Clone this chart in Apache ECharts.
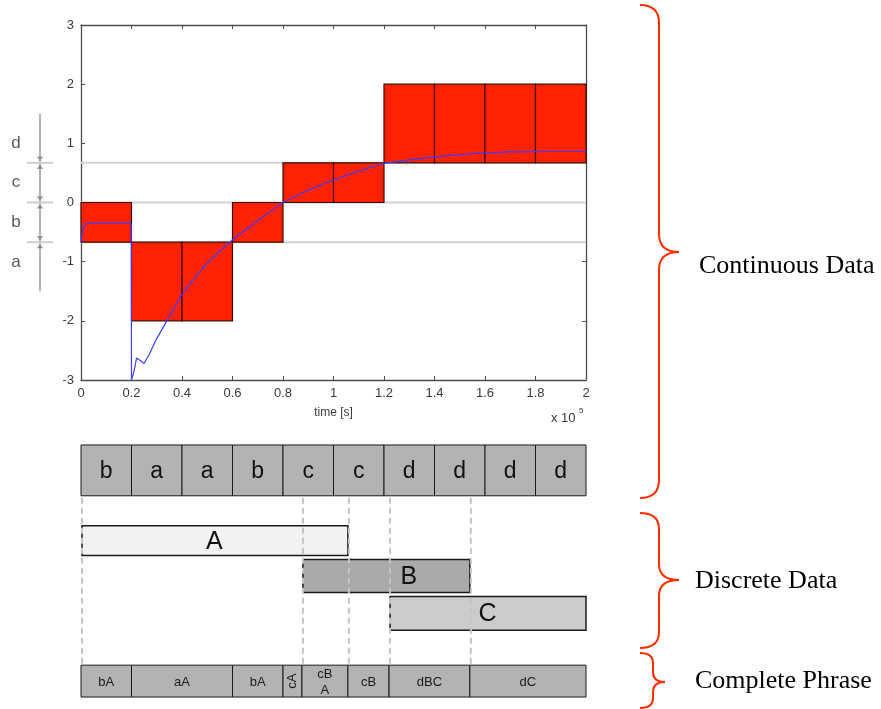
<!DOCTYPE html>
<html>
<head>
<meta charset="utf-8">
<script src="https://cdn.jsdelivr.net/npm/echarts@6/dist/echarts.min.js"></script>
<style>html,body{margin:0;padding:0;background:#fff}#c{width:881px;height:709px}</style>
</head>
<body>
<div id="c"></div>
<script>
// ---------- DATA ----------
const alphabet = ['a', 'b', 'c', 'd'];
const breakpoints = [-0.67, 0, 0.67];
const outerLimits = [-2, 2];
const symbols = ['b', 'a', 'a', 'b', 'c', 'c', 'd', 'd', 'd', 'd'];
const segEdges = [0, 0.2, 0.4, 0.6, 0.8, 1.0, 1.2, 1.4, 1.6, 1.8, 2.0];

const timeX = [0, 0.005, 0.01, 0.02, 0.04, 0.1, 0.15, 0.199, 0.2, 0.21, 0.22, 0.235, 0.25, 0.27, 0.3, 0.34,
  0.4, 0.45, 0.5, 0.55, 0.6, 0.65, 0.7, 0.75, 0.8, 0.9, 1.0, 1.1, 1.2, 1.3, 1.4, 1.5, 1.6, 1.7, 1.8, 1.9, 2.0];
const signalY = [-0.67, -0.5, -0.4, -0.36, -0.35, -0.35, -0.35, -0.35, -3.0, -2.85, -2.63, -2.67, -2.72, -2.57, -2.3, -2.0,
  -1.55, -1.28, -1.02, -0.82, -0.63, -0.47, -0.31, -0.15, 0.0, 0.21, 0.38, 0.53, 0.66, 0.72, 0.77, 0.81, 0.84, 0.855, 0.86, 0.862, 0.862];

const eventNames = ['A', 'B', 'C'];
const eventStart = [0, 0.875, 1.22];
const eventEnd = [1.057, 1.54, 2.0];

const phraseLabels = ['bA', 'aA', 'bA', 'cA', 'cB\nA', 'cB', 'dBC', 'dC'];
const phraseEdges = [0, 0.2, 0.6, 0.8, 0.875, 1.057, 1.22, 1.54, 2.0];

const xTickLabels = ['0', '0.2', '0.4', '0.6', '0.8', '1', '1.2', '1.4', '1.6', '1.8', '2'];
const yTickLabels = ['-3', '-2', '-1', '0', '1', '2', '3'];

const sectionLabels = ['Continuous Data', 'Discrete Data', 'Complete Phrase'];

// ---------- STYLE / LAYOUT ----------
const eventFill = ['#f2f2f2', '#aaaaaa', '#cccccc'];
const SANS = '"Liberation Sans", Arial, sans-serif';
const SERIF = '"Liberation Serif", "Times New Roman", serif';
const ROW = [5, 56];
const EVENT_ROWS = [[86, 116], [120, 153], [157, 191]];
const PHRASE_ROW = [226, 258];
const ANNOT_EXTENT = 1.5;
const RED = '#ff2d00';

function symRange(s) {
  const i = alphabet.indexOf(s);
  const lo = i === 0 ? outerLimits[0] : breakpoints[i - 1];
  const hi = i === alphabet.length - 1 ? outerLimits[1] : breakpoints[i];
  return [lo, hi];
}
const halfGap = (breakpoints[1] - breakpoints[0]) / 2;
function symCenter(s) {
  const i = alphabet.indexOf(s);
  if (i === 0) return breakpoints[0] - halfGap;
  if (i === alphabet.length - 1) return breakpoints[breakpoints.length - 1] + halfGap;
  return (breakpoints[i - 1] + breakpoints[i]) / 2;
}
const dashBounds = Array.from(new Set(eventStart.concat(eventEnd))).filter(v => v < 2).sort((a, b) => a - b);
// label position of an event: its centre, unless a boundary line crosses there
function eventLabelX(i) {
  const c = (eventStart[i] + eventEnd[i]) / 2;
  if (dashBounds.some(d => Math.abs(d - c) < 0.05) && i > 0) {
    return (Math.max(eventStart[i], eventEnd[i - 1]) + eventEnd[i]) / 2;
  }
  return c;
}

function txt(text, x, y, size, color, family, extra) {
  return Object.assign({
    type: 'text', x: x, y: y,
    style: { text: text, x: 0, y: 0, fill: color, font: size + 'px ' + family,
      align: 'center', verticalAlign: 'middle', textAlign: 'center', textVerticalAlign: 'middle' }
  }, extra || {});
}
function leftTxt(text, x, y, size, color, family) {
  return { type: 'text', x: x, y: y,
    style: { text: text, x: 0, y: 0, fill: color, font: size + 'px ' + family,
      align: 'left', verticalAlign: 'middle', textAlign: 'left', textVerticalAlign: 'middle' } };
}
// curly brace made of lines + quadratic curves
function brace(x0, xv, xt, yTop, yMid, yBot, r) {
  const st = { stroke: RED, lineWidth: 2, fill: null };
  return { type: 'group', children: [
    { type: 'bezierCurve', shape: { x1: x0, y1: yTop, cpx1: xv, cpy1: yTop, x2: xv, y2: yTop + r }, style: st },
    { type: 'line', shape: { x1: xv, y1: yTop + r, x2: xv, y2: yMid - r }, style: st },
    { type: 'bezierCurve', shape: { x1: xv, y1: yMid - r, cpx1: xv, cpy1: yMid, x2: xt, y2: yMid }, style: st },
    { type: 'bezierCurve', shape: { x1: xt, y1: yMid, cpx1: xv, cpy1: yMid, x2: xv, y2: yMid + r }, style: st },
    { type: 'line', shape: { x1: xv, y1: yMid + r, x2: xv, y2: yBot - r }, style: st },
    { type: 'bezierCurve', shape: { x1: xv, y1: yBot - r, cpx1: xv, cpy1: yBot, x2: x0, y2: yBot }, style: st }
  ] };
}

const chart = echarts.init(document.getElementById('c'), null, { renderer: 'canvas' });

const axisCol = '#4d4d4d';
const option = {
  animation: false,
  backgroundColor: '#fff',
  grid: [
    { left: 81, top: 25, width: 505, height: 355 },
    { left: 81, top: 440, width: 505, height: 270 }
  ],
  xAxis: [
    { gridIndex: 0, type: 'value', min: 0, max: 2, interval: 0.2, position: 'bottom',
      axisLine: { onZero: false, lineStyle: { color: axisCol, width: 1.3 } },
      axisTick: { inside: true, length: 4, lineStyle: { color: axisCol } },
      axisLabel: { color: '#3a3a3a', fontSize: 13, fontFamily: SANS, margin: 7,
        formatter: (v) => xTickLabels[Math.round(v / 0.2)] },
      splitLine: { show: false },
      name: 'time [s]', nameLocation: 'middle', nameGap: 27,
      nameTextStyle: { color: '#3a3a3a', fontSize: 12, fontFamily: SANS } },
    { gridIndex: 1, type: 'value', min: 0, max: 2, show: false },
    { gridIndex: 0, type: 'value', min: 0, max: 2, interval: 0.2, position: 'top',
      axisLine: { onZero: false, lineStyle: { color: axisCol, width: 1.3 } },
      axisTick: { inside: true, length: 4, lineStyle: { color: axisCol } },
      axisLabel: { show: false }, splitLine: { show: false } }
  ],
  yAxis: [
    { gridIndex: 0, type: 'value', min: -3, max: 3, interval: 1, position: 'left',
      axisLine: { show: true, onZero: false, lineStyle: { color: axisCol, width: 1.3 } },
      axisTick: { show: true, inside: true, length: 4, lineStyle: { color: axisCol } },
      axisLabel: { color: '#3a3a3a', fontSize: 13, fontFamily: SANS, margin: 7,
        formatter: (v) => yTickLabels[Math.round(v + 3)] },
      splitLine: { show: false } },
    { gridIndex: 1, type: 'value', min: 0, max: 270, inverse: true, show: false },
    { gridIndex: 0, type: 'value', min: -3, max: 3, interval: 1, position: 'right',
      axisLine: { show: true, onZero: false, lineStyle: { color: axisCol, width: 1.3 } },
      axisTick: { show: true, inside: true, length: 4, lineStyle: { color: axisCol } },
      axisLabel: { show: false }, splitLine: { show: false } }
  ],
  graphic: [
    brace(640, 659, 679, 5, 252, 498, 18),
    brace(640, 659, 679, 513, 580, 648, 16),
    brace(640, 653, 665, 653, 682, 708, 10),
    leftTxt(sectionLabels[0], 699, 266, 26, '#000', SERIF),
    leftTxt(sectionLabels[1], 695, 581, 26, '#000', SERIF),
    leftTxt(sectionLabels[2], 695, 681, 26, '#000', SERIF),
    leftTxt('x 10', 551, 418, 13, '#3a3a3a', SANS),
    leftTxt('5', 579, 411, 8, '#3a3a3a', SANS)
  ],
  series: [
    // breakpoint grey lines
    { type: 'custom', xAxisIndex: 0, yAxisIndex: 0, z: 1,
      data: breakpoints.map(b => [0, b]),
      renderItem: (params, api) => {
        const p0 = api.coord([0, api.value(1)]);
        const p1 = api.coord([2, api.value(1)]);
        return { type: 'line', shape: { x1: p0[0], y1: p0[1], x2: p1[0], y2: p1[1] },
          style: { stroke: '#d2d2d2', lineWidth: 2 } };
      } },
    // SAX red boxes
    { type: 'custom', xAxisIndex: 0, yAxisIndex: 0, z: 2,
      data: symbols.map((s, i) => { const r = symRange(s); return [segEdges[i], segEdges[i + 1], r[0], r[1]]; }),
      renderItem: (params, api) => {
        const a = api.coord([api.value(0), api.value(3)]);
        const b = api.coord([api.value(1), api.value(2)]);
        return { type: 'rect', shape: { x: a[0], y: a[1], width: b[0] - a[0], height: b[1] - a[1] },
          style: { fill: '#ff2200', stroke: '#3c0a00', lineWidth: 1.2 } };
      } },
    // signal
    { type: 'line', xAxisIndex: 0, yAxisIndex: 0, z: 3, showSymbol: false, silent: true,
      data: timeX.map((x, i) => [x, signalY[i]]),
      lineStyle: { color: '#3d3dff', width: 1.2 } },
    // left annotation: vertical line
    { type: 'custom', xAxisIndex: 0, yAxisIndex: 0, z: 2, clip: false,
      data: [[0, -ANNOT_EXTENT, ANNOT_EXTENT]],
      renderItem: (params, api) => {
        const a = api.coord([0, api.value(2)]);
        const b = api.coord([0, api.value(1)]);
        const x = a[0] - 41;
        return { type: 'line', shape: { x1: x, y1: a[1], x2: x, y2: b[1] }, style: { stroke: '#8a8a8a', lineWidth: 1.3 } };
      } },
    // left annotation: breakpoint markers
    { type: 'custom', xAxisIndex: 0, yAxisIndex: 0, z: 2, clip: false,
      data: breakpoints.map(b => [0, b]),
      renderItem: (params, api) => {
        const p = api.coord([0, api.value(1)]);
        const x = p[0] - 41, y = p[1];
        return { type: 'group', children: [
          { type: 'line', shape: { x1: x - 13, y1: y, x2: x + 13, y2: y }, style: { stroke: '#cfcfcf', lineWidth: 2 } },
          { type: 'polygon', shape: { points: [[x - 3, y - 6], [x + 3, y - 6], [x, y - 2]] }, style: { fill: '#8a8a8a' } },
          { type: 'polygon', shape: { points: [[x - 3, y + 6], [x + 3, y + 6], [x, y + 2]] }, style: { fill: '#8a8a8a' } }
        ] };
      } },
    // left annotation: letters
    { type: 'custom', xAxisIndex: 0, yAxisIndex: 0, z: 2, clip: false,
      data: alphabet.map(s => [0, symCenter(s)]),
      renderItem: (params, api) => {
        const p = api.coord([0, api.value(1)]);
        return txt(alphabet[params.dataIndex], p[0] - 65, p[1], 17, '#5a5a5a', SANS);
      } },
    // symbol row
    { type: 'custom', xAxisIndex: 1, yAxisIndex: 1, z: 2,
      data: symbols.map((s, i) => [segEdges[i], segEdges[i + 1]]),
      renderItem: (params, api) => {
        const a = api.coord([api.value(0), ROW[0]]);
        const b = api.coord([api.value(1), ROW[1]]);
        return { type: 'group', children: [
          { type: 'rect', shape: { x: a[0], y: a[1], width: b[0] - a[0], height: b[1] - a[1] },
            style: { fill: '#b3b3b3', stroke: '#1a1a1a', lineWidth: 1 } },
          txt(symbols[params.dataIndex], (a[0] + b[0]) / 2, (a[1] + b[1]) / 2 + 1, 23, '#111', SANS)
        ] };
      } },
    // events (bars)
    { type: 'custom', xAxisIndex: 1, yAxisIndex: 1, z: 2,
      data: eventNames.map((n, i) => [eventStart[i], eventEnd[i]]),
      renderItem: (params, api) => {
        const r = EVENT_ROWS[params.dataIndex];
        const a = api.coord([api.value(0), r[0]]);
        const b = api.coord([api.value(1), r[1]]);
        return { type: 'rect', shape: { x: a[0] + 1, y: a[1], width: b[0] - a[0] - 1, height: b[1] - a[1] },
          style: { fill: eventFill[params.dataIndex], stroke: '#1a1a1a', lineWidth: 1.5 } };
      } },
    // dashed boundaries
    { type: 'custom', xAxisIndex: 1, yAxisIndex: 1, z: 3,
      data: dashBounds.map(v => [v, 0]),
      renderItem: (params, api) => {
        const a = api.coord([api.value(0), ROW[1] + 2]);
        const b = api.coord([api.value(0), PHRASE_ROW[0]]);
        return { type: 'line', shape: { x1: a[0] + 1, y1: a[1], x2: b[0] + 1, y2: b[1] },
          style: { stroke: '#c4c4c4', lineWidth: 2, lineDash: [6, 4] } };
      } },
    // events (labels)
    { type: 'custom', xAxisIndex: 1, yAxisIndex: 1, z: 4,
      data: eventNames.map((n, i) => [eventLabelX(i), 0]),
      renderItem: (params, api) => {
        const r = EVENT_ROWS[params.dataIndex];
        const p = api.coord([api.value(0), (r[0] + r[1]) / 2]);
        return txt(eventNames[params.dataIndex], p[0], p[1] + 1, 25, '#111', SANS);
      } },
    // complete phrase
    { type: 'custom', xAxisIndex: 1, yAxisIndex: 1, z: 2,
      data: phraseLabels.map((l, i) => [phraseEdges[i], phraseEdges[i + 1]]),
      renderItem: (params, api) => {
        const a = api.coord([api.value(0), PHRASE_ROW[0]]);
        const b = api.coord([api.value(1), PHRASE_ROW[1]]);
        const w = b[0] - a[0];
        const lab = phraseLabels[params.dataIndex];
        const cx = (a[0] + b[0]) / 2, cy = (a[1] + b[1]) / 2;
        const t = w < 25
          ? txt(lab, cx, cy, 13, '#1a1a1a', SANS, { rotation: Math.PI / 2 })
          : txt(lab, cx, cy + 1, 13, '#1a1a1a', SANS);
        if (lab.indexOf('\n') >= 0) t.style.lineHeight = 16;
        return { type: 'group', children: [
          { type: 'rect', shape: { x: a[0], y: a[1], width: w, height: b[1] - a[1] },
            style: { fill: '#b3b3b3', stroke: '#1a1a1a', lineWidth: 1 } },
          t
        ] };
      } }
  ]
};
chart.setOption(option);
</script>
</body>
</html>
